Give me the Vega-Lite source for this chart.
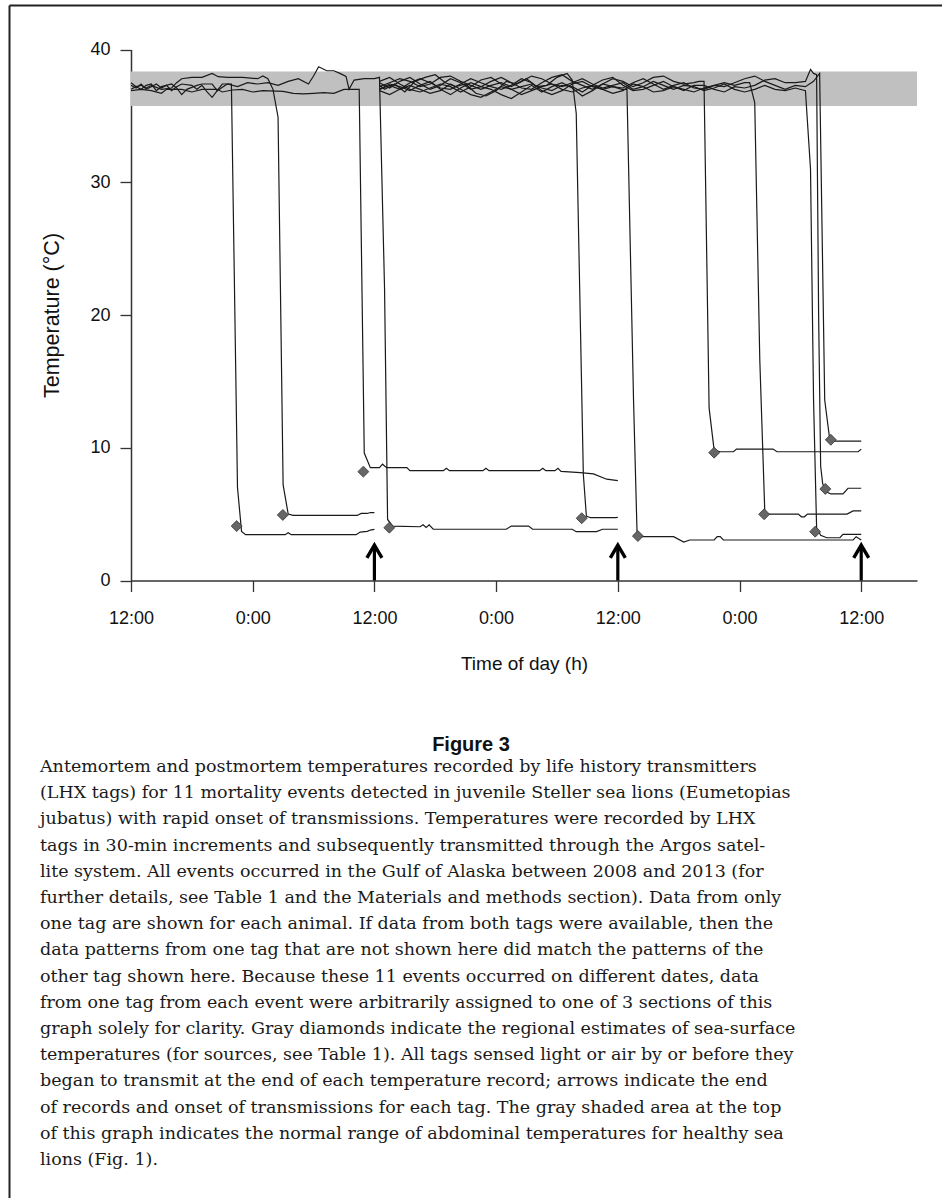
{
"$schema": "https://vega.github.io/schema/vega-lite/v6.json",
"width": 933,
"height": 1193,
"autosize": {"type": "none"},
"padding": {"left": 9, "top": 5, "right": 0, "bottom": 0},
"background": "white",
"config": {"view": {"stroke": null}, "font": "Liberation Sans", "axis": {"grid": false}},
"datasets": {
"series": [
{"s":"S1","h":0,"t":37.3},{"s":"S1","h":0.5,"t":37.1},{"s":"S1","h":1,"t":37.4},{"s":"S1","h":1.5,"t":37.0},{"s":"S1","h":2,"t":37.2},{"s":"S1","h":2.5,"t":37.4},{"s":"S1","h":3,"t":37.1},{"s":"S1","h":3.5,"t":37.3},{"s":"S1","h":4,"t":36.9},{"s":"S1","h":4.5,"t":37.2},{"s":"S1","h":5,"t":37.4},{"s":"S1","h":6,"t":37.3},{"s":"S1","h":6.5,"t":37.0},{"s":"S1","h":7,"t":37.3},{"s":"S1","h":7.5,"t":36.8},{"s":"S1","h":8,"t":36.4},{"s":"S1","h":8.5,"t":36.9},{"s":"S1","h":9,"t":37.4},{"s":"S1","h":9.9,"t":37.4},{"s":"S1","h":10.5,"t":7.0},{"s":"S1","h":10.9,"t":3.7},{"s":"S1","h":11.3,"t":3.45},{"s":"S1","h":15.2,"t":3.45},{"s":"S1","h":15.5,"t":3.6},{"s":"S1","h":15.8,"t":3.45},{"s":"S1","h":22.2,"t":3.45},{"s":"S1","h":22.6,"t":3.65},{"s":"S1","h":23.3,"t":3.7},{"s":"S1","h":23.6,"t":3.8},{"s":"S1","h":24,"t":3.85},
{"s":"S2","h":0,"t":37.0},{"s":"S2","h":0.5,"t":37.2},{"s":"S2","h":1,"t":37.3},{"s":"S2","h":1.5,"t":37.1},{"s":"S2","h":2,"t":37.3},{"s":"S2","h":3,"t":37.0},{"s":"S2","h":4,"t":37.1},{"s":"S2","h":4.5,"t":37.5},{"s":"S2","h":5,"t":37.8},{"s":"S2","h":6,"t":37.9},{"s":"S2","h":7,"t":37.9},{"s":"S2","h":8,"t":38.2},{"s":"S2","h":8.6,"t":37.95},{"s":"S2","h":9.5,"t":37.9},{"s":"S2","h":11,"t":37.9},{"s":"S2","h":12.5,"t":37.8},{"s":"S2","h":13,"t":38.0},{"s":"S2","h":13.5,"t":37.8},{"s":"S2","h":14,"t":37.0},{"s":"S2","h":14.5,"t":34.9},{"s":"S2","h":15,"t":7.2},{"s":"S2","h":15.5,"t":5.0},{"s":"S2","h":16,"t":4.9},{"s":"S2","h":22.3,"t":4.9},{"s":"S2","h":22.7,"t":5.05},{"s":"S2","h":23.3,"t":5.05},{"s":"S2","h":23.6,"t":5.12},{"s":"S2","h":24,"t":5.12},
{"s":"S3","h":0,"t":36.9},{"s":"S3","h":1,"t":37.0},{"s":"S3","h":2,"t":36.9},{"s":"S3","h":3,"t":36.7},{"s":"S3","h":3.5,"t":37.0},{"s":"S3","h":5,"t":37.0},{"s":"S3","h":6,"t":36.8},{"s":"S3","h":7,"t":37.0},{"s":"S3","h":8.5,"t":37.0},{"s":"S3","h":9,"t":36.8},{"s":"S3","h":10,"t":36.95},{"s":"S3","h":11,"t":37.0},{"s":"S3","h":12,"t":36.8},{"s":"S3","h":13,"t":36.9},{"s":"S3","h":15,"t":36.85},{"s":"S3","h":16,"t":36.7},{"s":"S3","h":17,"t":36.65},{"s":"S3","h":18,"t":36.7},{"s":"S3","h":19,"t":36.75},{"s":"S3","h":20,"t":36.7},{"s":"S3","h":21,"t":37.0},{"s":"S3","h":22.5,"t":37.0},{"s":"S3","h":23.0,"t":9.6},{"s":"S3","h":23.6,"t":8.5},{"s":"S3","h":24.5,"t":8.5},{"s":"S3","h":24.8,"t":8.76},{"s":"S3","h":25.2,"t":8.5},{"s":"S3","h":27.2,"t":8.5},{"s":"S3","h":27.5,"t":8.27},{"s":"S3","h":30.8,"t":8.27},{"s":"S3","h":31.1,"t":8.45},{"s":"S3","h":31.4,"t":8.27},{"s":"S3","h":34.7,"t":8.27},{"s":"S3","h":35.0,"t":8.45},{"s":"S3","h":35.3,"t":8.27},{"s":"S3","h":40.3,"t":8.27},{"s":"S3","h":40.6,"t":8.45},{"s":"S3","h":40.9,"t":8.27},{"s":"S3","h":41.8,"t":8.27},{"s":"S3","h":42.1,"t":8.45},{"s":"S3","h":42.4,"t":8.22},{"s":"S3","h":44.3,"t":8.12},{"s":"S3","h":45.6,"t":8.03},{"s":"S3","h":46.9,"t":7.63},{"s":"S3","h":48,"t":7.52},
{"s":"S4","h":0,"t":37.5},{"s":"S4","h":0.5,"t":37.2},{"s":"S4","h":1,"t":37.0},{"s":"S4","h":1.5,"t":37.3},{"s":"S4","h":2,"t":37.4},{"s":"S4","h":2.5,"t":36.9},{"s":"S4","h":3,"t":37.2},{"s":"S4","h":4,"t":37.4},{"s":"S4","h":4.5,"t":37.1},{"s":"S4","h":5,"t":36.6},{"s":"S4","h":5.5,"t":37.0},{"s":"S4","h":6.5,"t":37.3},{"s":"S4","h":7,"t":37.4},{"s":"S4","h":8,"t":37.4},{"s":"S4","h":8.5,"t":36.9},{"s":"S4","h":9.5,"t":37.4},{"s":"S4","h":10.5,"t":37.2},{"s":"S4","h":11.5,"t":37.5},{"s":"S4","h":12.5,"t":37.4},{"s":"S4","h":13.5,"t":37.5},{"s":"S4","h":14.5,"t":37.3},{"s":"S4","h":15.5,"t":37.6},{"s":"S4","h":16.5,"t":37.8},{"s":"S4","h":17.5,"t":37.4},{"s":"S4","h":18,"t":38.0},{"s":"S4","h":18.5,"t":38.7},{"s":"S4","h":19.3,"t":38.4},{"s":"S4","h":20,"t":38.4},{"s":"S4","h":20.6,"t":38.2},{"s":"S4","h":21.2,"t":37.97},{"s":"S4","h":21.5,"t":37.0},{"s":"S4","h":22,"t":37.7},{"s":"S4","h":23,"t":37.8},{"s":"S4","h":24,"t":37.8},{"s":"S4","h":24.5,"t":37.9},{"s":"S4","h":25.0,"t":22.0},{"s":"S4","h":25.3,"t":4.6},{"s":"S4","h":25.8,"t":4.1},{"s":"S4","h":28.5,"t":4.05},{"s":"S4","h":28.8,"t":4.2},{"s":"S4","h":29.1,"t":4.0},{"s":"S4","h":29.4,"t":4.2},{"s":"S4","h":29.8,"t":3.86},{"s":"S4","h":37.0,"t":3.86},{"s":"S4","h":37.5,"t":4.1},{"s":"S4","h":39.2,"t":4.1},{"s":"S4","h":39.6,"t":3.86},{"s":"S4","h":43.5,"t":3.86},{"s":"S4","h":43.9,"t":3.68},{"s":"S4","h":45.9,"t":3.68},{"s":"S4","h":46.5,"t":3.86},{"s":"S4","h":48,"t":3.86},
{"s":"S5","h":24.5,"t":37.3},{"s":"S5","h":25,"t":37.0},{"s":"S5","h":26,"t":37.4},{"s":"S5","h":27,"t":36.8},{"s":"S5","h":28,"t":37.6},{"s":"S5","h":29,"t":37.9},{"s":"S5","h":30,"t":38.1},{"s":"S5","h":31,"t":37.5},{"s":"S5","h":32,"t":37.2},{"s":"S5","h":33,"t":37.4},{"s":"S5","h":34,"t":36.7},{"s":"S5","h":35,"t":36.5},{"s":"S5","h":36,"t":36.9},{"s":"S5","h":37,"t":37.6},{"s":"S5","h":38,"t":37.4},{"s":"S5","h":39,"t":37.8},{"s":"S5","h":40,"t":37.2},{"s":"S5","h":41,"t":37.3},{"s":"S5","h":42,"t":37.9},{"s":"S5","h":43,"t":38.2},{"s":"S5","h":43.5,"t":37.7},{"s":"S5","h":43.9,"t":35.2},{"s":"S5","h":44.6,"t":8.0},{"s":"S5","h":44.9,"t":4.85},{"s":"S5","h":45.3,"t":4.73},{"s":"S5","h":47.8,"t":4.73},{"s":"S5","h":48,"t":4.75},
{"s":"S6","h":24.5,"t":37.0},{"s":"S6","h":25.5,"t":37.4},{"s":"S6","h":26.5,"t":37.2},{"s":"S6","h":27.5,"t":36.9},{"s":"S6","h":28.5,"t":37.3},{"s":"S6","h":29.5,"t":37.6},{"s":"S6","h":30.5,"t":37.0},{"s":"S6","h":31.5,"t":36.6},{"s":"S6","h":32.5,"t":37.1},{"s":"S6","h":33.5,"t":37.5},{"s":"S6","h":34.5,"t":37.2},{"s":"S6","h":35.5,"t":37.0},{"s":"S6","h":36.5,"t":36.6},{"s":"S6","h":37.5,"t":36.3},{"s":"S6","h":38.5,"t":36.8},{"s":"S6","h":39.5,"t":37.3},{"s":"S6","h":40.5,"t":36.8},{"s":"S6","h":41.5,"t":37.2},{"s":"S6","h":42.5,"t":37.5},{"s":"S6","h":43.5,"t":37.1},{"s":"S6","h":44.5,"t":36.5},{"s":"S6","h":45.5,"t":36.9},{"s":"S6","h":46.5,"t":37.4},{"s":"S6","h":47.5,"t":37.2},{"s":"S6","h":48.4,"t":37.0},{"s":"S6","h":48.9,"t":37.0},{"s":"S6","h":49.55,"t":13.6},{"s":"S6","h":49.9,"t":3.5},{"s":"S6","h":50.3,"t":3.3},{"s":"S6","h":53.5,"t":3.3},{"s":"S6","h":54.5,"t":2.9},{"s":"S6","h":55.1,"t":3.05},{"s":"S6","h":57.5,"t":3.05},{"s":"S6","h":57.8,"t":3.3},{"s":"S6","h":58.1,"t":3.3},{"s":"S6","h":58.4,"t":3.05},{"s":"S6","h":71.2,"t":3.05},{"s":"S6","h":71.5,"t":3.3},{"s":"S6","h":72,"t":3.05},
{"s":"S7","h":24.5,"t":37.5},{"s":"S7","h":25.5,"t":37.1},{"s":"S7","h":26.5,"t":37.6},{"s":"S7","h":27.5,"t":37.9},{"s":"S7","h":28.5,"t":37.4},{"s":"S7","h":29.5,"t":37.0},{"s":"S7","h":30.5,"t":37.3},{"s":"S7","h":31.5,"t":37.8},{"s":"S7","h":32.5,"t":37.5},{"s":"S7","h":33.5,"t":37.0},{"s":"S7","h":34.5,"t":37.2},{"s":"S7","h":35.5,"t":37.6},{"s":"S7","h":36.5,"t":37.9},{"s":"S7","h":37.5,"t":37.5},{"s":"S7","h":38.5,"t":37.1},{"s":"S7","h":39.5,"t":37.0},{"s":"S7","h":40.5,"t":37.5},{"s":"S7","h":41.5,"t":37.9},{"s":"S7","h":42.5,"t":38.1},{"s":"S7","h":43.5,"t":37.6},{"s":"S7","h":44.5,"t":37.3},{"s":"S7","h":45.5,"t":37.0},{"s":"S7","h":46.5,"t":37.4},{"s":"S7","h":47.5,"t":37.8},{"s":"S7","h":48.5,"t":37.6},{"s":"S7","h":49.5,"t":37.2},{"s":"S7","h":50.5,"t":37.5},{"s":"S7","h":51.5,"t":37.9},{"s":"S7","h":52.5,"t":38.0},{"s":"S7","h":53.5,"t":37.6},{"s":"S7","h":54.5,"t":37.4},{"s":"S7","h":55.5,"t":37.5},{"s":"S7","h":56.0,"t":37.6},{"s":"S7","h":56.5,"t":37.6},{"s":"S7","h":57.0,"t":13.0},{"s":"S7","h":57.5,"t":9.8},{"s":"S7","h":58.1,"t":9.7},{"s":"S7","h":59.4,"t":9.7},{"s":"S7","h":59.7,"t":9.9},{"s":"S7","h":63.3,"t":9.9},{"s":"S7","h":63.7,"t":9.7},{"s":"S7","h":71.7,"t":9.7},{"s":"S7","h":72,"t":9.9},
{"s":"S8","h":24.5,"t":36.9},{"s":"S8","h":25.5,"t":36.6},{"s":"S8","h":26.5,"t":37.0},{"s":"S8","h":27.5,"t":37.3},{"s":"S8","h":28.5,"t":37.0},{"s":"S8","h":29.5,"t":36.7},{"s":"S8","h":30.5,"t":36.9},{"s":"S8","h":31.5,"t":37.4},{"s":"S8","h":32.5,"t":37.0},{"s":"S8","h":33.5,"t":36.6},{"s":"S8","h":34.5,"t":36.4},{"s":"S8","h":35.5,"t":36.8},{"s":"S8","h":36.5,"t":37.2},{"s":"S8","h":37.5,"t":37.0},{"s":"S8","h":38.5,"t":36.6},{"s":"S8","h":39.5,"t":36.9},{"s":"S8","h":40.5,"t":37.2},{"s":"S8","h":41.5,"t":37.4},{"s":"S8","h":42.5,"t":37.0},{"s":"S8","h":43.5,"t":36.8},{"s":"S8","h":44.5,"t":37.1},{"s":"S8","h":45.5,"t":37.3},{"s":"S8","h":46.5,"t":37.0},{"s":"S8","h":47.5,"t":36.7},{"s":"S8","h":48.5,"t":36.9},{"s":"S8","h":49.5,"t":37.4},{"s":"S8","h":50.5,"t":37.2},{"s":"S8","h":51.5,"t":36.8},{"s":"S8","h":52.5,"t":36.9},{"s":"S8","h":53.5,"t":37.2},{"s":"S8","h":54.5,"t":37.0},{"s":"S8","h":55.5,"t":36.8},{"s":"S8","h":56.5,"t":37.1},{"s":"S8","h":57.5,"t":37.3},{"s":"S8","h":58.5,"t":37.5},{"s":"S8","h":59.5,"t":37.3},{"s":"S8","h":60.5,"t":37.5},{"s":"S8","h":61.0,"t":37.5},{"s":"S8","h":61.5,"t":36.0},{"s":"S8","h":62.0,"t":16.6},{"s":"S8","h":62.5,"t":5.0},{"s":"S8","h":65.8,"t":5.0},{"s":"S8","h":66.1,"t":4.8},{"s":"S8","h":66.4,"t":4.8},{"s":"S8","h":66.7,"t":5.0},{"s":"S8","h":70.6,"t":5.0},{"s":"S8","h":71.2,"t":5.24},{"s":"S8","h":72,"t":5.24},
{"s":"S9","h":24.5,"t":37.2},{"s":"S9","h":25.5,"t":37.5},{"s":"S9","h":26.5,"t":37.8},{"s":"S9","h":27.5,"t":37.6},{"s":"S9","h":28.5,"t":37.2},{"s":"S9","h":29.5,"t":37.4},{"s":"S9","h":30.5,"t":37.9},{"s":"S9","h":31.5,"t":38.0},{"s":"S9","h":32.5,"t":37.6},{"s":"S9","h":33.5,"t":37.3},{"s":"S9","h":34.5,"t":37.0},{"s":"S9","h":35.5,"t":37.3},{"s":"S9","h":36.5,"t":37.5},{"s":"S9","h":37.5,"t":37.2},{"s":"S9","h":38.5,"t":37.6},{"s":"S9","h":39.5,"t":38.0},{"s":"S9","h":40.5,"t":37.8},{"s":"S9","h":41.5,"t":37.4},{"s":"S9","h":42.5,"t":37.2},{"s":"S9","h":43.5,"t":37.5},{"s":"S9","h":44.5,"t":37.8},{"s":"S9","h":45.5,"t":37.4},{"s":"S9","h":46.5,"t":37.1},{"s":"S9","h":47.5,"t":37.3},{"s":"S9","h":48.5,"t":37.5},{"s":"S9","h":49.5,"t":37.0},{"s":"S9","h":50.5,"t":37.2},{"s":"S9","h":51.5,"t":37.6},{"s":"S9","h":52.5,"t":37.3},{"s":"S9","h":53.5,"t":37.0},{"s":"S9","h":54.5,"t":37.3},{"s":"S9","h":55.5,"t":37.2},{"s":"S9","h":56.5,"t":36.9},{"s":"S9","h":57.5,"t":37.1},{"s":"S9","h":58.5,"t":37.4},{"s":"S9","h":59.5,"t":37.0},{"s":"S9","h":60.5,"t":36.8},{"s":"S9","h":61.5,"t":37.0},{"s":"S9","h":62.5,"t":37.3},{"s":"S9","h":63.5,"t":37.0},{"s":"S9","h":64.5,"t":36.9},{"s":"S9","h":65.5,"t":37.1},{"s":"S9","h":66.5,"t":36.9},{"s":"S9","h":67.0,"t":31.0},{"s":"S9","h":67.3,"t":13.6},{"s":"S9","h":67.6,"t":4.0},{"s":"S9","h":68.0,"t":3.4},{"s":"S9","h":68.6,"t":3.22},{"s":"S9","h":69.9,"t":3.22},{"s":"S9","h":70.2,"t":3.48},{"s":"S9","h":72,"t":3.48},
{"s":"S10","h":24.5,"t":37.6},{"s":"S10","h":25.5,"t":37.9},{"s":"S10","h":26.5,"t":37.4},{"s":"S10","h":27.5,"t":37.0},{"s":"S10","h":28.5,"t":36.8},{"s":"S10","h":29.5,"t":37.1},{"s":"S10","h":30.5,"t":37.4},{"s":"S10","h":31.5,"t":37.2},{"s":"S10","h":32.5,"t":36.8},{"s":"S10","h":33.5,"t":37.2},{"s":"S10","h":34.5,"t":37.7},{"s":"S10","h":35.5,"t":37.9},{"s":"S10","h":36.5,"t":37.4},{"s":"S10","h":37.5,"t":37.0},{"s":"S10","h":38.5,"t":37.2},{"s":"S10","h":39.5,"t":37.4},{"s":"S10","h":40.5,"t":37.1},{"s":"S10","h":41.5,"t":36.9},{"s":"S10","h":42.5,"t":37.3},{"s":"S10","h":43.5,"t":37.2},{"s":"S10","h":44.5,"t":36.8},{"s":"S10","h":45.5,"t":37.3},{"s":"S10","h":46.5,"t":37.7},{"s":"S10","h":47.5,"t":37.9},{"s":"S10","h":48.5,"t":37.3},{"s":"S10","h":49.5,"t":36.9},{"s":"S10","h":50.5,"t":37.0},{"s":"S10","h":51.5,"t":37.3},{"s":"S10","h":52.5,"t":37.6},{"s":"S10","h":53.5,"t":37.2},{"s":"S10","h":54.5,"t":36.9},{"s":"S10","h":55.5,"t":37.3},{"s":"S10","h":56.5,"t":37.3},{"s":"S10","h":57.5,"t":37.0},{"s":"S10","h":58.5,"t":36.8},{"s":"S10","h":59.5,"t":37.2},{"s":"S10","h":60.5,"t":37.1},{"s":"S10","h":61.5,"t":37.3},{"s":"S10","h":62.5,"t":37.7},{"s":"S10","h":63.5,"t":37.8},{"s":"S10","h":64.5,"t":37.5},{"s":"S10","h":65.5,"t":37.5},{"s":"S10","h":66.5,"t":37.6},{"s":"S10","h":67.0,"t":38.5},{"s":"S10","h":67.3,"t":38.2},{"s":"S10","h":67.6,"t":38.1},{"s":"S10","h":67.8,"t":20.0},{"s":"S10","h":68.0,"t":8.6},{"s":"S10","h":68.2,"t":7.3},{"s":"S10","h":68.5,"t":6.7},{"s":"S10","h":69.0,"t":6.52},{"s":"S10","h":70.2,"t":6.52},{"s":"S10","h":70.7,"t":6.95},{"s":"S10","h":72,"t":6.95},
{"s":"S11","h":24.5,"t":37.0},{"s":"S11","h":25.5,"t":37.3},{"s":"S11","h":26.5,"t":37.0},{"s":"S11","h":27.5,"t":37.5},{"s":"S11","h":28.5,"t":37.8},{"s":"S11","h":29.5,"t":37.5},{"s":"S11","h":30.5,"t":37.1},{"s":"S11","h":31.5,"t":37.0},{"s":"S11","h":32.5,"t":37.4},{"s":"S11","h":33.5,"t":37.8},{"s":"S11","h":34.5,"t":37.5},{"s":"S11","h":35.5,"t":37.2},{"s":"S11","h":36.5,"t":37.0},{"s":"S11","h":37.5,"t":37.3},{"s":"S11","h":38.5,"t":37.8},{"s":"S11","h":39.5,"t":37.5},{"s":"S11","h":40.5,"t":36.9},{"s":"S11","h":41.5,"t":36.6},{"s":"S11","h":42.5,"t":36.9},{"s":"S11","h":43.5,"t":37.4},{"s":"S11","h":44.5,"t":37.6},{"s":"S11","h":45.5,"t":37.2},{"s":"S11","h":46.5,"t":37.0},{"s":"S11","h":47.5,"t":37.2},{"s":"S11","h":48.5,"t":37.1},{"s":"S11","h":49.5,"t":37.5},{"s":"S11","h":50.5,"t":37.8},{"s":"S11","h":51.5,"t":37.4},{"s":"S11","h":52.5,"t":37.0},{"s":"S11","h":53.5,"t":37.3},{"s":"S11","h":54.5,"t":37.5},{"s":"S11","h":55.5,"t":37.1},{"s":"S11","h":56.5,"t":37.0},{"s":"S11","h":57.5,"t":37.3},{"s":"S11","h":58.5,"t":37.2},{"s":"S11","h":59.5,"t":37.5},{"s":"S11","h":60.5,"t":37.8},{"s":"S11","h":61.5,"t":38.0},{"s":"S11","h":62.5,"t":37.6},{"s":"S11","h":63.5,"t":37.3},{"s":"S11","h":64.5,"t":37.0},{"s":"S11","h":65.5,"t":37.3},{"s":"S11","h":66.5,"t":37.2},{"s":"S11","h":67.3,"t":37.6},{"s":"S11","h":67.9,"t":38.2},{"s":"S11","h":68.4,"t":13.6},{"s":"S11","h":68.9,"t":10.6},{"s":"S11","h":69.3,"t":10.5},{"s":"S11","h":72,"t":10.5}
],
"sst": [
{"s":"S1","h":10.42,"t":4.1},{"s":"S2","h":14.97,"t":4.94},{"s":"S3","h":22.91,"t":8.2},{"s":"S4","h":25.47,"t":3.98},{"s":"S5","h":44.44,"t":4.69},{"s":"S6","h":49.98,"t":3.35},{"s":"S7","h":57.5,"t":9.63},{"s":"S8","h":62.43,"t":4.99},{"s":"S9","h":67.46,"t":3.68},{"s":"S10","h":68.46,"t":6.9},{"s":"S11","h":69.0,"t":10.6}
],
"caption": [
{"line":1,"text":"Antemortem and postmortem temperatures recorded by life history transmitters"},
{"line":2,"text":"(LHX tags) for 11 mortality events detected in juvenile Steller sea lions (Eumetopias"},
{"line":3,"text":"jubatus) with rapid onset of transmissions. Temperatures were recorded by LHX"},
{"line":4,"text":"tags in 30-min increments and subsequently transmitted through the Argos satel-"},
{"line":5,"text":"lite system. All events occurred in the Gulf of Alaska between 2008 and 2013 (for"},
{"line":6,"text":"further details, see Table 1 and the Materials and methods section). Data from only"},
{"line":7,"text":"one tag are shown for each animal. If data from both tags were available, then the"},
{"line":8,"text":"data patterns from one tag that are not shown here did match the patterns of the"},
{"line":9,"text":"other tag shown here. Because these 11 events occurred on different dates, data"},
{"line":10,"text":"from one tag from each event were arbitrarily assigned to one of 3 sections of this"},
{"line":11,"text":"graph solely for clarity. Gray diamonds indicate the regional estimates of sea-surface"},
{"line":12,"text":"temperatures (for sources, see Table 1). All tags sensed light or air by or before they"},
{"line":13,"text":"began to transmit at the end of each temperature record; arrows indicate the end"},
{"line":14,"text":"of records and onset of transmissions for each tag. The gray shaded area at the top"},
{"line":15,"text":"of this graph indicates the normal range of abdominal temperatures for healthy sea"},
{"line":16,"text":"lions (Fig. 1)."}
]
},
"layer": [
{
"layer": [
{
"data": {"values": [{"h0": 0, "h1": 77.5, "t0": 35.75, "t1": 38.35}]},
"mark": {"type": "rect", "color": "#c0c0c0"},
"encoding": {
"x": {"field": "h0", "type": "quantitative", "title": "Time of day (h)", "scale": {"domain": [0, 77.5], "range": [122, 908], "nice": false, "zero": false},
"axis": {"orient": "bottom", "offset": -617.5, "values": [0, 12, 24, 36, 48, 60, 72], "labelExpr": "datum.value % 24 === 0 ? '12:00' : '0:00'", "labelFlush": false, "labelOverlap": false, "tickSize": 11, "tickColor": "#333", "domainColor": "#333", "domainWidth": 1.5, "tickWidth": 1.3, "labelFontSize": 18, "labelColor": "#111", "labelPadding": 18, "titleFontSize": 19, "titleFontWeight": "normal", "titleColor": "#111", "titlePadding": 27}},
"x2": {"field": "h1"},
"y": {"field": "t0", "type": "quantitative", "title": "Temperature (°C)", "scale": {"domain": [0, 40], "range": [575.5, 44.5], "nice": false, "zero": false},
"axis": {"orient": "left", "offset": -122, "values": [0, 10, 20, 30, 40], "tickSize": 11, "tickColor": "#333", "domainColor": "#333", "domainWidth": 1.5, "tickWidth": 1.3, "labelFontSize": 18, "labelColor": "#111", "labelPadding": 10, "titleFontSize": 21.5, "titleFontWeight": "normal", "titleColor": "#111", "titlePadding": 26}},
"y2": {"field": "t1"}
}
},
{
"data": {"name": "series"},
"mark": {"type": "line", "color": "#1a1a1a", "strokeWidth": 1.2},
"encoding": {
"x": {"field": "h", "type": "quantitative", "title": "Time of day (h)", "scale": {"domain": [0, 77.5], "range": [122, 908], "nice": false, "zero": false}},
"y": {"field": "t", "type": "quantitative", "title": "Temperature (°C)", "scale": {"domain": [0, 40], "range": [575.5, 44.5], "nice": false, "zero": false}},
"detail": {"field": "s"},
"order": {"field": "h", "type": "quantitative"}
}
},
{
"data": {"name": "sst"},
"mark": {"type": "point", "shape": "diamond", "filled": true, "fill": "#666666", "stroke": "#333333", "strokeWidth": 0.8, "size": 120, "opacity": 1},
"encoding": {
"x": {"field": "h", "type": "quantitative", "title": "Time of day (h)", "scale": {"domain": [0, 77.5], "range": [122, 908], "nice": false, "zero": false}},
"y": {"field": "t", "type": "quantitative", "title": "Temperature (°C)", "scale": {"domain": [0, 40], "range": [575.5, 44.5], "nice": false, "zero": false}}
}
},
{
"data": {"values": [{"h": 24, "b": 0, "tip": 2.66}, {"h": 48, "b": 0, "tip": 2.66}, {"h": 72, "b": 0, "tip": 2.66}]},
"layer": [
{
"mark": {"type": "rule", "color": "#000", "strokeWidth": 3.2},
"encoding": {
"x": {"field": "h", "type": "quantitative", "title": "Time of day (h)", "scale": {"domain": [0, 77.5], "range": [122, 908], "nice": false, "zero": false}},
"y": {"field": "b", "type": "quantitative", "title": "Temperature (°C)", "scale": {"domain": [0, 40], "range": [575.5, 44.5], "nice": false, "zero": false}},
"y2": {"field": "tip"}
}
},
{
"mark": {"type": "point", "shape": "M-1,1.7L0,0L1,1.7", "filled": false, "stroke": "#000", "strokeWidth": 3.4, "size": 225, "opacity": 1},
"encoding": {
"x": {"field": "h", "type": "quantitative", "title": "Time of day (h)", "scale": {"domain": [0, 77.5], "range": [122, 908], "nice": false, "zero": false}},
"y": {"field": "tip", "type": "quantitative", "title": "Temperature (°C)", "scale": {"domain": [0, 40], "range": [575.5, 44.5], "nice": false, "zero": false}}
}
}
]
}
]
},
{
"layer": [
{
"data": {"values": [{"line": 0, "text": "Figure 3"}]},
"mark": {"type": "text", "font": "Liberation Sans", "fontWeight": "bold", "fontSize": 20, "align": "center", "baseline": "middle", "color": "#111", "dy": 4},
"encoding": {
"x": {"datum": 0.4952, "type": "quantitative", "scale": {"domain": [0, 1], "nice": false, "zero": false}, "axis": {"orient": "top", "ticks": false, "labels": false, "title": null, "domainColor": "#222", "domainWidth": 2}},
"y": {"field": "line", "type": "quantitative", "scale": {"domain": [-28.08, 17.45], "reverse": true, "nice": false, "zero": false}, "axis": {"orient": "left", "ticks": false, "labels": false, "title": null, "domainColor": "#222", "domainWidth": 2}},
"text": {"field": "text"}
}
},
{
"data": {"name": "caption"},
"mark": {"type": "text", "font": "DejaVu Serif", "fontSize": 17.5, "align": "left", "baseline": "middle", "color": "#1a1a1a"},
"encoding": {
"x": {"datum": 0.0332, "type": "quantitative", "scale": {"domain": [0, 1], "nice": false, "zero": false}},
"y": {"field": "line", "type": "quantitative", "scale": {"domain": [-28.08, 17.45], "reverse": true, "nice": false, "zero": false}},
"text": {"field": "text"}
}
}
]
}
],
"resolve": {"scale": {"x": "independent", "y": "independent"}, "axis": {"x": "independent", "y": "independent"}}
}
